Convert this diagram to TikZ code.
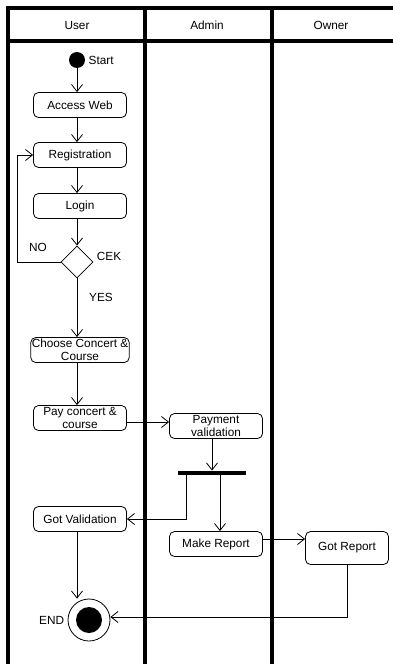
\documentclass[tikz,border=0pt]{standalone}
\usepackage{fontspec}
\setmainfont{Liberation Sans}
\usetikzlibrary{positioning}
\usetikzlibrary{arrows.meta}
\usetikzlibrary{shapes.geometric}

\begin{document}
\begin{tikzpicture}[x=1pt,y=-1pt,font=\fontsize{11.8}{13}\selectfont]

\tikzstyle{laneline} = [line width=3.5pt, line cap=rect]
\tikzstyle{actnode} = [draw, line width=0.8pt, rounded corners=5pt, minimum width=93pt, minimum height=25pt, inner sep=1pt, align=center]
\tikzstyle{startnode} = [circle, fill, minimum size=16pt, inner sep=0pt]
\tikzstyle{decnode} = [diamond, draw, line width=0.8pt, minimum width=32pt, minimum height=32pt, inner sep=0pt]
\tikzstyle{forknode} = [fill, minimum width=68pt, minimum height=4.5pt, inner sep=0pt]
\tikzstyle{flowedge} = [line width=0.8pt, -{Straight Barb[length=7pt,width=11pt]}]

\useasboundingbox (0,0) rectangle (393,664);

% swimlanes
\draw [laneline] (8,664) -- (8,8) -- (393,8);
\draw [laneline] (8,41) -- (393,41);
\draw [laneline] (145,8) -- (145,664);
\draw [laneline] (272,8) -- (272,664);
\node (huser) at (77,25) {User};
\node (hadmin) at (207,25) {Admin};
\node (howner) at (331,25) {Owner};

% user
\node [startnode] (start) at (77,60) [label=right:Start]{};
\node [actnode] (access) at (80,105) {Access Web};
\node [actnode] (reg) at (80,155) {Registration};
\node [actnode] (login) at (80,206) {Login};
\node [decnode] (cek) at (77,262) [label={[yshift=6pt]right:CEK}]{};
\node (lno) at (38,247) {NO};
\node (lyes) at (101,297) {YES};
\node [actnode] (choose) at (80,350) {Choose Concert \&\\Course};
\node [actnode] (pay) at (80,418) {Pay concert \&\\course};
\node [actnode] (gotval) at (80,519) {Got Validation};
\node [circle, draw, line width=0.8pt, minimum size=42pt] (end) at (89,620) [label=left:END]{};
\node [circle, fill, minimum size=26pt] (endin) at (end) {};

% admin
\node [actnode] (payval) at (216,426) {Payment\\validation};
\node [forknode] (fork) at (212,473) {};
\node [actnode] (mkrep) at (216,544) {Make Report};

% owner
\node [actnode, minimum width=83pt, minimum height=33pt] (gotrep) at (347,548) {Got Report};

\coordinate (payout) at ([yshift=-4pt]pay.east);
\coordinate (forkl) at ([xshift=9pt]fork.south west);
\coordinate (forkr) at ([xshift=8pt]fork.south);
\coordinate (mkout) at ([yshift=5pt]mkrep.east);
\coordinate (endin2) at ([yshift=3pt]end.east);

\draw [flowedge] (start) -- (start |- access.north);
\draw [flowedge] (access.south -| start) -- (start |- reg.north);
\draw [flowedge] (reg.south -| start) -- (start |- login.north);
\draw [flowedge] (login.south -| start) -- (cek.north);
\draw [flowedge] (cek.west) -- ++(-43,0) |- (reg.west);
\draw [flowedge] (cek.south) -- (cek |- choose.north);
\draw [flowedge] (choose.south -| start) -- (start |- pay.north);
\draw [flowedge] (payout) -- (payval.west |- payout);
\draw [flowedge] (payval.south -| fork) -- (fork.north);
\draw [flowedge] (forkl) |- (gotval.east);
\draw [flowedge] (forkr) -- (forkr |- mkrep.north);
\draw [flowedge] (mkout) -- (gotrep.west |- mkout);
\draw [flowedge] (gotval.south -| start) -- (start |- end.north);
\draw [flowedge] (gotrep.south) |- (endin2);

\end{tikzpicture}
\end{document}
